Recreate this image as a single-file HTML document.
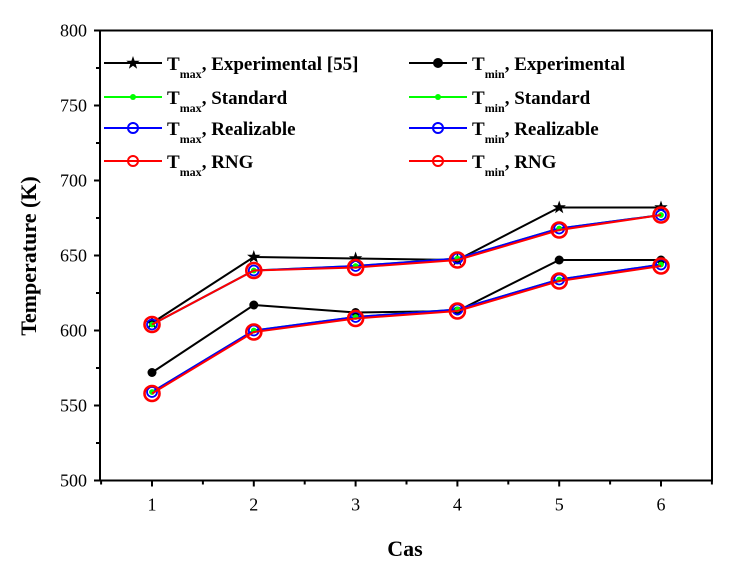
<!DOCTYPE html>
<html><head><meta charset="utf-8"><style>
body{margin:0;background:#fff;}
svg text{font-family:"Liberation Serif",serif;}
</style></head><body>
<svg id="chart" width="740" height="568" viewBox="0 0 740 568" xmlns="http://www.w3.org/2000/svg">
<g id="axes"></g><g id="series"></g><g id="legend"></g>
<text x="405" y="556" text-anchor="middle" font-size="22" font-weight="bold">Cas</text>
<text transform="translate(36,256) rotate(-90)" text-anchor="middle" font-size="22" font-weight="bold">Temperature (K)</text>
</svg>
<script>
const categories=[1,2,3,4,5,6];
const yTicks=[500,550,600,650,700,750,800];
const expTmax=[605,649,648,647,682,682];
const expTmin=[572,617,612,613,647,647];
const stdTmax=[604,640,643,648,668,677];
const stdTmin=[559,600,609,614,634,644];
const realTmax=[604,640,643,648,668,677];
const realTmin=[559,600,609,614,634,644];
const rngTmax=[604,640,642,647,667,677];
const rngTmin=[558,599,608,613,633,643];

const NS="http://www.w3.org/2000/svg";
const L=100,R=712,T=30.5,B=480.5;
function xs(c){return 152+(c-1)*101.8;}
function ys(v){return B-(v-500)*(B-T)/300;}
function mk(tag,attrs,parent){const e=document.createElementNS(NS,tag);for(const k in attrs)e.setAttribute(k,attrs[k]);parent.appendChild(e);return e;}
const axes=document.getElementById('axes');
const frame=mk('rect',{x:L,y:T,width:R-L,height:B-T,fill:'none',stroke:'#000','stroke-width':2},axes);


yTicks.forEach((v,i)=>{
  const t=mk('line',{x1:L-6,x2:L,y1:ys(v),y2:ys(v),stroke:'#000','stroke-width':2},axes);
  
  
  const lb=mk('text',{x:L-13,y:ys(v)+6,'text-anchor':'end','font-size':18},axes);
  lb.textContent=v;
  
  
  if(i<yTicks.length-1){
    const m=mk('line',{x1:L-4,x2:L,y1:ys(v+25),y2:ys(v+25),stroke:'#000','stroke-width':2},axes);
    
    
  }
});
categories.forEach((c,i)=>{
  const t=mk('line',{x1:xs(c),x2:xs(c),y1:B,y2:B+6,stroke:'#000','stroke-width':2},axes);
  
  
  const lb=mk('text',{x:xs(c),y:B+30,'text-anchor':'middle','font-size':18},axes);
  lb.textContent=c;
  
  
  const m=mk('line',{x1:xs(c+0.5),x2:xs(c+0.5),y1:B,y2:B+4,stroke:'#000','stroke-width':2},axes);
  
  
  if(i===0){const m2=mk('line',{x1:xs(c-0.5),x2:xs(c-0.5),y1:B,y2:B+4,stroke:'#000','stroke-width':2},axes);
    
    }
});
function star(x,y,r,parent){let p='';for(let i=0;i<10;i++){const a=-Math.PI/2+i*Math.PI/5;const rr=i%2?r*0.4:r;p+=(i?'L':'M')+(x+rr*Math.cos(a)).toFixed(1)+','+(y+rr*Math.sin(a)).toFixed(1);}return mk('path',{d:p+'Z',fill:'#000'},parent);}
function marker(type,x,y,parent){
  if(type==='star')return star(x,y,7,parent);
  if(type==='dot')return mk('circle',{cx:x,cy:y,r:4.5,fill:'#000'},parent);
  if(type==='green')return mk('circle',{cx:x,cy:y,r:2.8,fill:'#00ff00'},parent);
  if(type==='blue')return mk('circle',{cx:x,cy:y,r:5,fill:'none',stroke:'#0000ff','stroke-width':1.8},parent);
  if(type==='red')return mk('circle',{cx:x,cy:y,r:7.5,fill:'none',stroke:'#ff0000','stroke-width':2.6},parent);
}
const series=[
 {name:'exp-tmax',data:expTmax,color:'#000',m:'star'},
 {name:'exp-tmin',data:expTmin,color:'#000',m:'dot'},
 {name:'std-tmax',data:stdTmax,color:'#00ff00',m:'green'},
 {name:'std-tmin',data:stdTmin,color:'#00ff00',m:'green'},
 {name:'real-tmax',data:realTmax,color:'#0000ff',m:'blue'},
 {name:'real-tmin',data:realTmin,color:'#0000ff',m:'blue'},
 {name:'rng-tmax',data:rngTmax,color:'#ff0000',m:'red'},
 {name:'rng-tmin',data:rngTmin,color:'#ff0000',m:'red'}];
const sg=document.getElementById('series');
series.forEach(s=>{
  const g=mk('g',{},sg);
  
  
  const pl=mk('polyline',{points:s.data.map((v,i)=>xs(categories[i])+','+ys(v)).join(' '),fill:'none',stroke:s.color,'stroke-width':2},g);
  
  
  s.data.forEach((v,i)=>{
    const p=marker(s.m,xs(categories[i]),ys(v),g);
    
    
  });
  if(s.m==='blue'){s.data.forEach((v,i)=>{const p=marker('green',xs(categories[i]),ys(v),g);
    
    });}
});
const lg=document.getElementById('legend');
const leg=[
 ['max',', Experimental [55]','#000','star',104,63],['min',', Experimental','#000','dot',409,63],
 ['max',', Standard','#00ff00','green',104,97],['min',', Standard','#00ff00','green',409,97],
 ['max',', Realizable','#0000ff','blue',104,128],['min',', Realizable','#0000ff','blue',409,128],
 ['max',', RNG','#ff0000','red',104,161],['min',', RNG','#ff0000','red',409,161]];
leg.forEach(e=>{
  const g=mk('g',{},lg);
  
  
  mk('line',{x1:e[4],x2:e[4]+58,y1:e[5],y2:e[5],stroke:e[2],'stroke-width':2},g);
  if(e[3]==='red')mk('circle',{cx:e[4]+29,cy:e[5],r:5,fill:'none',stroke:'#ff0000','stroke-width':2},g);
  else if(e[3]==='blue')mk('circle',{cx:e[4]+29,cy:e[5],r:5,fill:'none',stroke:'#0000ff','stroke-width':2},g);
  else if(e[3]==='star')star(e[4]+29,e[5],7,g);
  else if(e[3]==='dot')mk('circle',{cx:e[4]+29,cy:e[5],r:5,fill:'#000'},g);
  else mk('circle',{cx:e[4]+29,cy:e[5],r:3,fill:'#00ff00'},g);
  const t=mk('text',{x:e[4]+63,y:e[5]+7,'font-size':19,'font-weight':'bold'},g);
  t.innerHTML='T<tspan font-size="12" dy="8">'+e[0]+'</tspan><tspan dy="-8">'+e[1]+'</tspan>';
});
</script>
</body></html>
